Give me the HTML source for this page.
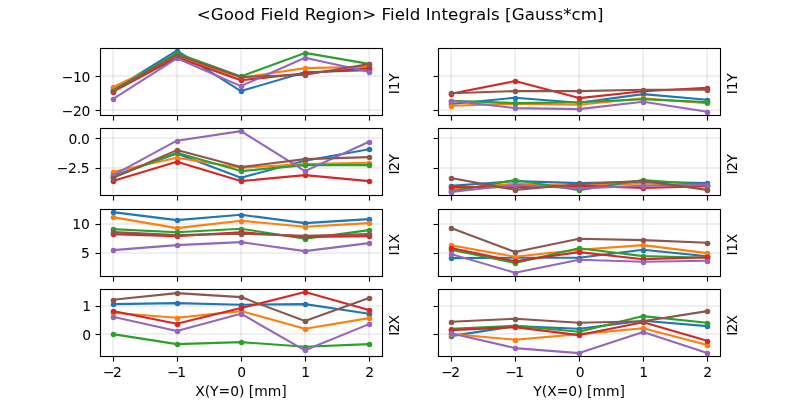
<!DOCTYPE html>
<html><head><meta charset="utf-8"><title>Field Integrals</title>
<style>html,body{margin:0;padding:0;background:#fff;overflow:hidden}svg{display:block}</style></head>
<body>
<svg width="800" height="400" viewBox="0 0 800 400" font-family="'DejaVu Sans', 'Liberation Sans', sans-serif">
<rect width="800" height="400" fill="#fff"/>
<text x="400.2" y="20.2" font-size="16.667" text-anchor="middle" textLength="406.8" lengthAdjust="spacing" fill="#000">&lt;Good Field Region&gt; Field Integrals [Gauss*cm]</text>
<clipPath id="c1"><rect x="100.000" y="48.000" width="281.818" height="66.957"/></clipPath>
<g clip-path="url(#c1)">
<line x1="113.0" y1="48.0" x2="113.0" y2="114.957" stroke="#b0b0b0" stroke-opacity="0.2" stroke-width="2.0"/>
<line x1="177.0" y1="48.0" x2="177.0" y2="114.957" stroke="#b0b0b0" stroke-opacity="0.2" stroke-width="2.0"/>
<line x1="241.0" y1="48.0" x2="241.0" y2="114.957" stroke="#b0b0b0" stroke-opacity="0.2" stroke-width="2.0"/>
<line x1="305.0" y1="48.0" x2="305.0" y2="114.957" stroke="#b0b0b0" stroke-opacity="0.2" stroke-width="2.0"/>
<line x1="369.0" y1="48.0" x2="369.0" y2="114.957" stroke="#b0b0b0" stroke-opacity="0.2" stroke-width="2.0"/>
<line x1="100.0" y1="76.0" x2="381.8182" y2="76.0" stroke="#b0b0b0" stroke-opacity="0.2" stroke-width="2.0"/>
<line x1="100.0" y1="110.0" x2="381.8182" y2="110.0" stroke="#b0b0b0" stroke-opacity="0.2" stroke-width="2.0"/>
<polyline fill="none" stroke="#1f77b4" stroke-width="2.083" stroke-linejoin="round" stroke-linecap="butt" points="112.81,90.20 176.86,50.70 240.91,91.10 304.96,72.20 369.01,70.20"/>
<circle cx="113.50" cy="90.50" r="2.77" fill="#1f77b4"/>
<circle cx="177.50" cy="51.50" r="2.77" fill="#1f77b4"/>
<circle cx="241.50" cy="91.50" r="2.77" fill="#1f77b4"/>
<circle cx="305.50" cy="72.50" r="2.77" fill="#1f77b4"/>
<circle cx="369.50" cy="70.50" r="2.77" fill="#1f77b4"/>
<polyline fill="none" stroke="#ff7f0e" stroke-width="2.083" stroke-linejoin="round" stroke-linecap="butt" points="112.81,87.30 176.86,56.70 240.91,77.70 304.96,68.10 369.01,66.70"/>
<circle cx="113.50" cy="87.50" r="2.77" fill="#ff7f0e"/>
<circle cx="177.50" cy="57.50" r="2.77" fill="#ff7f0e"/>
<circle cx="241.50" cy="78.50" r="2.77" fill="#ff7f0e"/>
<circle cx="305.50" cy="68.50" r="2.77" fill="#ff7f0e"/>
<circle cx="369.50" cy="67.50" r="2.77" fill="#ff7f0e"/>
<polyline fill="none" stroke="#2ca02c" stroke-width="2.083" stroke-linejoin="round" stroke-linecap="butt" points="112.81,90.70 176.86,53.20 240.91,76.50 304.96,52.90 369.01,63.90"/>
<circle cx="113.50" cy="91.50" r="2.77" fill="#2ca02c"/>
<circle cx="177.50" cy="53.50" r="2.77" fill="#2ca02c"/>
<circle cx="241.50" cy="76.50" r="2.77" fill="#2ca02c"/>
<circle cx="305.50" cy="53.50" r="2.77" fill="#2ca02c"/>
<circle cx="369.50" cy="64.50" r="2.77" fill="#2ca02c"/>
<polyline fill="none" stroke="#d62728" stroke-width="2.083" stroke-linejoin="round" stroke-linecap="butt" points="112.81,91.90 176.86,57.50 240.91,80.30 304.96,73.20 369.01,68.30"/>
<circle cx="113.50" cy="92.50" r="2.77" fill="#d62728"/>
<circle cx="177.50" cy="57.50" r="2.77" fill="#d62728"/>
<circle cx="241.50" cy="80.50" r="2.77" fill="#d62728"/>
<circle cx="305.50" cy="73.50" r="2.77" fill="#d62728"/>
<circle cx="369.50" cy="68.50" r="2.77" fill="#d62728"/>
<polyline fill="none" stroke="#9467bd" stroke-width="2.083" stroke-linejoin="round" stroke-linecap="butt" points="112.81,99.20 176.86,58.30 240.91,86.10 304.96,57.70 369.01,71.70"/>
<circle cx="113.50" cy="99.50" r="2.77" fill="#9467bd"/>
<circle cx="177.50" cy="58.50" r="2.77" fill="#9467bd"/>
<circle cx="241.50" cy="86.50" r="2.77" fill="#9467bd"/>
<circle cx="305.50" cy="58.50" r="2.77" fill="#9467bd"/>
<circle cx="369.50" cy="72.50" r="2.77" fill="#9467bd"/>
<polyline fill="none" stroke="#8c564b" stroke-width="2.083" stroke-linejoin="round" stroke-linecap="butt" points="112.81,91.30 176.86,54.90 240.91,77.10 304.96,74.70 369.01,64.10"/>
<circle cx="113.50" cy="91.50" r="2.77" fill="#8c564b"/>
<circle cx="177.50" cy="55.50" r="2.77" fill="#8c564b"/>
<circle cx="241.50" cy="77.50" r="2.77" fill="#8c564b"/>
<circle cx="305.50" cy="75.50" r="2.77" fill="#8c564b"/>
<circle cx="369.50" cy="64.50" r="2.77" fill="#8c564b"/>
</g>
<line x1="113.5" y1="115.5" x2="113.5" y2="120.60" stroke="#000" stroke-width="1.11"/>
<line x1="177.5" y1="115.5" x2="177.5" y2="120.60" stroke="#000" stroke-width="1.11"/>
<line x1="241.5" y1="115.5" x2="241.5" y2="120.60" stroke="#000" stroke-width="1.11"/>
<line x1="305.5" y1="115.5" x2="305.5" y2="120.60" stroke="#000" stroke-width="1.11"/>
<line x1="369.5" y1="115.5" x2="369.5" y2="120.60" stroke="#000" stroke-width="1.11"/>
<line x1="95.50" y1="76.5" x2="100.5" y2="76.5" stroke="#000" stroke-width="1.11"/>
<text x="89.88" y="81.50" font-size="13.889" text-anchor="end" letter-spacing="-0.4">−10</text>
<line x1="95.50" y1="110.5" x2="100.5" y2="110.5" stroke="#000" stroke-width="1.11"/>
<text x="89.88" y="115.50" font-size="13.889" text-anchor="end" letter-spacing="-0.4">−20</text>
<rect x="100.5" y="48.5" width="282.0" height="67.0" fill="none" stroke="#000" stroke-width="1.11"/>
<text transform="translate(399.48,83.78) rotate(-90)" font-size="13.889" text-anchor="middle" letter-spacing="-0.2">I1Y</text>
<clipPath id="c2"><rect x="438.182" y="48.000" width="281.818" height="66.957"/></clipPath>
<g clip-path="url(#c2)">
<line x1="451.0" y1="48.0" x2="451.0" y2="114.957" stroke="#b0b0b0" stroke-opacity="0.2" stroke-width="2.0"/>
<line x1="515.0" y1="48.0" x2="515.0" y2="114.957" stroke="#b0b0b0" stroke-opacity="0.2" stroke-width="2.0"/>
<line x1="579.0" y1="48.0" x2="579.0" y2="114.957" stroke="#b0b0b0" stroke-opacity="0.2" stroke-width="2.0"/>
<line x1="643.0" y1="48.0" x2="643.0" y2="114.957" stroke="#b0b0b0" stroke-opacity="0.2" stroke-width="2.0"/>
<line x1="707.0" y1="48.0" x2="707.0" y2="114.957" stroke="#b0b0b0" stroke-opacity="0.2" stroke-width="2.0"/>
<line x1="438.1818" y1="76.0" x2="720.0" y2="76.0" stroke="#b0b0b0" stroke-opacity="0.2" stroke-width="2.0"/>
<line x1="438.1818" y1="110.0" x2="720.0" y2="110.0" stroke="#b0b0b0" stroke-opacity="0.2" stroke-width="2.0"/>
<polyline fill="none" stroke="#1f77b4" stroke-width="2.083" stroke-linejoin="round" stroke-linecap="butt" points="450.99,104.00 515.04,97.70 579.09,102.70 643.14,94.10 707.19,99.70"/>
<circle cx="451.50" cy="104.50" r="2.77" fill="#1f77b4"/>
<circle cx="515.50" cy="98.50" r="2.77" fill="#1f77b4"/>
<circle cx="579.50" cy="103.50" r="2.77" fill="#1f77b4"/>
<circle cx="643.50" cy="94.50" r="2.77" fill="#1f77b4"/>
<circle cx="707.50" cy="100.50" r="2.77" fill="#1f77b4"/>
<polyline fill="none" stroke="#ff7f0e" stroke-width="2.083" stroke-linejoin="round" stroke-linecap="butt" points="450.99,105.70 515.04,103.70 579.09,104.70 643.14,98.30 707.19,103.30"/>
<circle cx="451.50" cy="106.50" r="2.77" fill="#ff7f0e"/>
<circle cx="515.50" cy="104.50" r="2.77" fill="#ff7f0e"/>
<circle cx="579.50" cy="105.50" r="2.77" fill="#ff7f0e"/>
<circle cx="643.50" cy="98.50" r="2.77" fill="#ff7f0e"/>
<circle cx="707.50" cy="103.50" r="2.77" fill="#ff7f0e"/>
<polyline fill="none" stroke="#2ca02c" stroke-width="2.083" stroke-linejoin="round" stroke-linecap="butt" points="450.99,100.70 515.04,103.10 579.09,102.30 643.14,99.30 707.19,102.10"/>
<circle cx="451.50" cy="101.50" r="2.77" fill="#2ca02c"/>
<circle cx="515.50" cy="103.50" r="2.77" fill="#2ca02c"/>
<circle cx="579.50" cy="102.50" r="2.77" fill="#2ca02c"/>
<circle cx="643.50" cy="99.50" r="2.77" fill="#2ca02c"/>
<circle cx="707.50" cy="102.50" r="2.77" fill="#2ca02c"/>
<polyline fill="none" stroke="#d62728" stroke-width="2.083" stroke-linejoin="round" stroke-linecap="butt" points="450.99,93.70 515.04,81.10 579.09,98.10 643.14,91.30 707.19,87.70"/>
<circle cx="451.50" cy="94.50" r="2.77" fill="#d62728"/>
<circle cx="515.50" cy="81.50" r="2.77" fill="#d62728"/>
<circle cx="579.50" cy="98.50" r="2.77" fill="#d62728"/>
<circle cx="643.50" cy="91.50" r="2.77" fill="#d62728"/>
<circle cx="707.50" cy="88.50" r="2.77" fill="#d62728"/>
<polyline fill="none" stroke="#9467bd" stroke-width="2.083" stroke-linejoin="round" stroke-linecap="butt" points="450.99,100.70 515.04,108.10 579.09,109.10 643.14,101.70 707.19,111.70"/>
<circle cx="451.50" cy="101.50" r="2.77" fill="#9467bd"/>
<circle cx="515.50" cy="108.50" r="2.77" fill="#9467bd"/>
<circle cx="579.50" cy="109.50" r="2.77" fill="#9467bd"/>
<circle cx="643.50" cy="102.50" r="2.77" fill="#9467bd"/>
<circle cx="707.50" cy="112.50" r="2.77" fill="#9467bd"/>
<polyline fill="none" stroke="#8c564b" stroke-width="2.083" stroke-linejoin="round" stroke-linecap="butt" points="450.99,93.30 515.04,91.10 579.09,91.10 643.14,89.70 707.19,89.70"/>
<circle cx="451.50" cy="93.50" r="2.77" fill="#8c564b"/>
<circle cx="515.50" cy="91.50" r="2.77" fill="#8c564b"/>
<circle cx="579.50" cy="91.50" r="2.77" fill="#8c564b"/>
<circle cx="643.50" cy="90.50" r="2.77" fill="#8c564b"/>
<circle cx="707.50" cy="90.50" r="2.77" fill="#8c564b"/>
</g>
<line x1="451.5" y1="115.5" x2="451.5" y2="120.60" stroke="#000" stroke-width="1.11"/>
<line x1="515.5" y1="115.5" x2="515.5" y2="120.60" stroke="#000" stroke-width="1.11"/>
<line x1="579.5" y1="115.5" x2="579.5" y2="120.60" stroke="#000" stroke-width="1.11"/>
<line x1="643.5" y1="115.5" x2="643.5" y2="120.60" stroke="#000" stroke-width="1.11"/>
<line x1="707.5" y1="115.5" x2="707.5" y2="120.60" stroke="#000" stroke-width="1.11"/>
<line x1="433.50" y1="76.5" x2="438.5" y2="76.5" stroke="#000" stroke-width="1.11"/>
<line x1="433.50" y1="110.5" x2="438.5" y2="110.5" stroke="#000" stroke-width="1.11"/>
<rect x="438.5" y="48.5" width="282.0" height="67.0" fill="none" stroke="#000" stroke-width="1.11"/>
<text transform="translate(736.56,83.78) rotate(-90)" font-size="13.889" text-anchor="middle" letter-spacing="-0.2">I1Y</text>
<clipPath id="c3"><rect x="100.000" y="128.348" width="281.818" height="66.956"/></clipPath>
<g clip-path="url(#c3)">
<line x1="113.0" y1="128.348" x2="113.0" y2="195.304" stroke="#b0b0b0" stroke-opacity="0.2" stroke-width="2.0"/>
<line x1="177.0" y1="128.348" x2="177.0" y2="195.304" stroke="#b0b0b0" stroke-opacity="0.2" stroke-width="2.0"/>
<line x1="241.0" y1="128.348" x2="241.0" y2="195.304" stroke="#b0b0b0" stroke-opacity="0.2" stroke-width="2.0"/>
<line x1="305.0" y1="128.348" x2="305.0" y2="195.304" stroke="#b0b0b0" stroke-opacity="0.2" stroke-width="2.0"/>
<line x1="369.0" y1="128.348" x2="369.0" y2="195.304" stroke="#b0b0b0" stroke-opacity="0.2" stroke-width="2.0"/>
<line x1="100.0" y1="138.0" x2="381.8182" y2="138.0" stroke="#b0b0b0" stroke-opacity="0.2" stroke-width="2.0"/>
<line x1="100.0" y1="168.0" x2="381.8182" y2="168.0" stroke="#b0b0b0" stroke-opacity="0.2" stroke-width="2.0"/>
<polyline fill="none" stroke="#1f77b4" stroke-width="2.083" stroke-linejoin="round" stroke-linecap="butt" points="112.81,176.20 176.86,153.50 240.91,177.70 304.96,160.70 369.01,149.30"/>
<circle cx="113.50" cy="176.50" r="2.77" fill="#1f77b4"/>
<circle cx="177.50" cy="153.50" r="2.77" fill="#1f77b4"/>
<circle cx="241.50" cy="178.50" r="2.77" fill="#1f77b4"/>
<circle cx="305.50" cy="161.50" r="2.77" fill="#1f77b4"/>
<circle cx="369.50" cy="149.50" r="2.77" fill="#1f77b4"/>
<polyline fill="none" stroke="#ff7f0e" stroke-width="2.083" stroke-linejoin="round" stroke-linecap="butt" points="112.81,172.10 176.86,157.70 240.91,167.70 304.96,164.10 369.01,162.70"/>
<circle cx="113.50" cy="172.50" r="2.77" fill="#ff7f0e"/>
<circle cx="177.50" cy="158.50" r="2.77" fill="#ff7f0e"/>
<circle cx="241.50" cy="168.50" r="2.77" fill="#ff7f0e"/>
<circle cx="305.50" cy="164.50" r="2.77" fill="#ff7f0e"/>
<circle cx="369.50" cy="163.50" r="2.77" fill="#ff7f0e"/>
<polyline fill="none" stroke="#2ca02c" stroke-width="2.083" stroke-linejoin="round" stroke-linecap="butt" points="112.81,177.20 176.86,152.70 240.91,171.10 304.96,165.10 369.01,165.10"/>
<circle cx="113.50" cy="177.50" r="2.77" fill="#2ca02c"/>
<circle cx="177.50" cy="153.50" r="2.77" fill="#2ca02c"/>
<circle cx="241.50" cy="171.50" r="2.77" fill="#2ca02c"/>
<circle cx="305.50" cy="165.50" r="2.77" fill="#2ca02c"/>
<circle cx="369.50" cy="165.50" r="2.77" fill="#2ca02c"/>
<polyline fill="none" stroke="#d62728" stroke-width="2.083" stroke-linejoin="round" stroke-linecap="butt" points="112.81,181.10 176.86,161.70 240.91,181.10 304.96,175.10 369.01,181.10"/>
<circle cx="113.50" cy="181.50" r="2.77" fill="#d62728"/>
<circle cx="177.50" cy="162.50" r="2.77" fill="#d62728"/>
<circle cx="241.50" cy="181.50" r="2.77" fill="#d62728"/>
<circle cx="305.50" cy="175.50" r="2.77" fill="#d62728"/>
<circle cx="369.50" cy="181.50" r="2.77" fill="#d62728"/>
<polyline fill="none" stroke="#9467bd" stroke-width="2.083" stroke-linejoin="round" stroke-linecap="butt" points="112.81,175.30 176.86,140.70 240.91,131.10 304.96,171.10 369.01,141.70"/>
<circle cx="113.50" cy="175.50" r="2.77" fill="#9467bd"/>
<circle cx="177.50" cy="141.50" r="2.77" fill="#9467bd"/>
<circle cx="241.50" cy="131.50" r="2.77" fill="#9467bd"/>
<circle cx="305.50" cy="171.50" r="2.77" fill="#9467bd"/>
<circle cx="369.50" cy="142.50" r="2.77" fill="#9467bd"/>
<polyline fill="none" stroke="#8c564b" stroke-width="2.083" stroke-linejoin="round" stroke-linecap="butt" points="112.81,178.10 176.86,150.10 240.91,167.10 304.96,159.10 369.01,157.10"/>
<circle cx="113.50" cy="178.50" r="2.77" fill="#8c564b"/>
<circle cx="177.50" cy="150.50" r="2.77" fill="#8c564b"/>
<circle cx="241.50" cy="167.50" r="2.77" fill="#8c564b"/>
<circle cx="305.50" cy="159.50" r="2.77" fill="#8c564b"/>
<circle cx="369.50" cy="157.50" r="2.77" fill="#8c564b"/>
</g>
<line x1="113.5" y1="195.5" x2="113.5" y2="200.60" stroke="#000" stroke-width="1.11"/>
<line x1="177.5" y1="195.5" x2="177.5" y2="200.60" stroke="#000" stroke-width="1.11"/>
<line x1="241.5" y1="195.5" x2="241.5" y2="200.60" stroke="#000" stroke-width="1.11"/>
<line x1="305.5" y1="195.5" x2="305.5" y2="200.60" stroke="#000" stroke-width="1.11"/>
<line x1="369.5" y1="195.5" x2="369.5" y2="200.60" stroke="#000" stroke-width="1.11"/>
<line x1="95.50" y1="138.5" x2="100.5" y2="138.5" stroke="#000" stroke-width="1.11"/>
<text x="89.43" y="143.50" font-size="13.889" text-anchor="end" letter-spacing="-0.4">0.0</text>
<line x1="95.50" y1="168.5" x2="100.5" y2="168.5" stroke="#000" stroke-width="1.11"/>
<text x="89.43" y="172.50" font-size="13.889" text-anchor="end" letter-spacing="-0.25">−2.5</text>
<rect x="100.5" y="128.5" width="282.0" height="67.0" fill="none" stroke="#000" stroke-width="1.11"/>
<text transform="translate(399.48,164.58) rotate(-90)" font-size="13.889" text-anchor="middle" letter-spacing="-0.5">I2Y</text>
<clipPath id="c4"><rect x="438.182" y="128.348" width="281.818" height="66.956"/></clipPath>
<g clip-path="url(#c4)">
<line x1="451.0" y1="128.348" x2="451.0" y2="195.304" stroke="#b0b0b0" stroke-opacity="0.2" stroke-width="2.0"/>
<line x1="515.0" y1="128.348" x2="515.0" y2="195.304" stroke="#b0b0b0" stroke-opacity="0.2" stroke-width="2.0"/>
<line x1="579.0" y1="128.348" x2="579.0" y2="195.304" stroke="#b0b0b0" stroke-opacity="0.2" stroke-width="2.0"/>
<line x1="643.0" y1="128.348" x2="643.0" y2="195.304" stroke="#b0b0b0" stroke-opacity="0.2" stroke-width="2.0"/>
<line x1="707.0" y1="128.348" x2="707.0" y2="195.304" stroke="#b0b0b0" stroke-opacity="0.2" stroke-width="2.0"/>
<line x1="438.1818" y1="138.0" x2="720.0" y2="138.0" stroke="#b0b0b0" stroke-opacity="0.2" stroke-width="2.0"/>
<line x1="438.1818" y1="168.0" x2="720.0" y2="168.0" stroke="#b0b0b0" stroke-opacity="0.2" stroke-width="2.0"/>
<polyline fill="none" stroke="#1f77b4" stroke-width="2.083" stroke-linejoin="round" stroke-linecap="butt" points="450.99,185.90 515.04,181.10 579.09,183.10 643.14,181.70 707.19,183.00"/>
<circle cx="451.50" cy="186.50" r="2.77" fill="#1f77b4"/>
<circle cx="515.50" cy="181.50" r="2.77" fill="#1f77b4"/>
<circle cx="579.50" cy="183.50" r="2.77" fill="#1f77b4"/>
<circle cx="643.50" cy="182.50" r="2.77" fill="#1f77b4"/>
<circle cx="707.50" cy="183.50" r="2.77" fill="#1f77b4"/>
<polyline fill="none" stroke="#ff7f0e" stroke-width="2.083" stroke-linejoin="round" stroke-linecap="butt" points="450.99,189.30 515.04,183.70 579.09,185.70 643.14,183.55 707.19,185.70"/>
<circle cx="451.50" cy="189.50" r="2.77" fill="#ff7f0e"/>
<circle cx="515.50" cy="184.50" r="2.77" fill="#ff7f0e"/>
<circle cx="579.50" cy="186.50" r="2.77" fill="#ff7f0e"/>
<circle cx="643.50" cy="183.50" r="2.77" fill="#ff7f0e"/>
<circle cx="707.50" cy="186.50" r="2.77" fill="#ff7f0e"/>
<polyline fill="none" stroke="#2ca02c" stroke-width="2.083" stroke-linejoin="round" stroke-linecap="butt" points="450.99,191.50 515.04,179.95 579.09,190.30 643.14,179.95 707.19,184.70"/>
<circle cx="451.50" cy="191.50" r="2.77" fill="#2ca02c"/>
<circle cx="515.50" cy="180.50" r="2.77" fill="#2ca02c"/>
<circle cx="579.50" cy="190.50" r="2.77" fill="#2ca02c"/>
<circle cx="643.50" cy="180.50" r="2.77" fill="#2ca02c"/>
<circle cx="707.50" cy="185.50" r="2.77" fill="#2ca02c"/>
<polyline fill="none" stroke="#d62728" stroke-width="2.083" stroke-linejoin="round" stroke-linecap="butt" points="450.99,187.10 515.04,187.20 579.09,185.80 643.14,188.05 707.19,186.10"/>
<circle cx="451.50" cy="187.50" r="2.77" fill="#d62728"/>
<circle cx="515.50" cy="187.50" r="2.77" fill="#d62728"/>
<circle cx="579.50" cy="186.50" r="2.77" fill="#d62728"/>
<circle cx="643.50" cy="188.50" r="2.77" fill="#d62728"/>
<circle cx="707.50" cy="186.50" r="2.77" fill="#d62728"/>
<polyline fill="none" stroke="#9467bd" stroke-width="2.083" stroke-linejoin="round" stroke-linecap="butt" points="450.99,192.00 515.04,185.00 579.09,188.40 643.14,185.80 707.19,185.00"/>
<circle cx="451.50" cy="192.50" r="2.77" fill="#9467bd"/>
<circle cx="515.50" cy="185.50" r="2.77" fill="#9467bd"/>
<circle cx="579.50" cy="188.50" r="2.77" fill="#9467bd"/>
<circle cx="643.50" cy="186.50" r="2.77" fill="#9467bd"/>
<circle cx="707.50" cy="185.50" r="2.77" fill="#9467bd"/>
<polyline fill="none" stroke="#8c564b" stroke-width="2.083" stroke-linejoin="round" stroke-linecap="butt" points="450.99,178.00 515.04,189.85 579.09,184.20 643.14,180.85 707.19,189.85"/>
<circle cx="451.50" cy="178.50" r="2.77" fill="#8c564b"/>
<circle cx="515.50" cy="190.50" r="2.77" fill="#8c564b"/>
<circle cx="579.50" cy="184.50" r="2.77" fill="#8c564b"/>
<circle cx="643.50" cy="181.50" r="2.77" fill="#8c564b"/>
<circle cx="707.50" cy="190.50" r="2.77" fill="#8c564b"/>
</g>
<line x1="451.5" y1="195.5" x2="451.5" y2="200.60" stroke="#000" stroke-width="1.11"/>
<line x1="515.5" y1="195.5" x2="515.5" y2="200.60" stroke="#000" stroke-width="1.11"/>
<line x1="579.5" y1="195.5" x2="579.5" y2="200.60" stroke="#000" stroke-width="1.11"/>
<line x1="643.5" y1="195.5" x2="643.5" y2="200.60" stroke="#000" stroke-width="1.11"/>
<line x1="707.5" y1="195.5" x2="707.5" y2="200.60" stroke="#000" stroke-width="1.11"/>
<line x1="433.50" y1="138.5" x2="438.5" y2="138.5" stroke="#000" stroke-width="1.11"/>
<line x1="433.50" y1="168.5" x2="438.5" y2="168.5" stroke="#000" stroke-width="1.11"/>
<rect x="438.5" y="128.5" width="282.0" height="67.0" fill="none" stroke="#000" stroke-width="1.11"/>
<text transform="translate(736.56,164.58) rotate(-90)" font-size="13.889" text-anchor="middle" letter-spacing="-0.5">I2Y</text>
<clipPath id="c5"><rect x="100.000" y="208.696" width="281.818" height="66.956"/></clipPath>
<g clip-path="url(#c5)">
<line x1="113.0" y1="208.696" x2="113.0" y2="275.652" stroke="#b0b0b0" stroke-opacity="0.2" stroke-width="2.0"/>
<line x1="177.0" y1="208.696" x2="177.0" y2="275.652" stroke="#b0b0b0" stroke-opacity="0.2" stroke-width="2.0"/>
<line x1="241.0" y1="208.696" x2="241.0" y2="275.652" stroke="#b0b0b0" stroke-opacity="0.2" stroke-width="2.0"/>
<line x1="305.0" y1="208.696" x2="305.0" y2="275.652" stroke="#b0b0b0" stroke-opacity="0.2" stroke-width="2.0"/>
<line x1="369.0" y1="208.696" x2="369.0" y2="275.652" stroke="#b0b0b0" stroke-opacity="0.2" stroke-width="2.0"/>
<line x1="100.0" y1="224.0" x2="381.8182" y2="224.0" stroke="#b0b0b0" stroke-opacity="0.2" stroke-width="2.0"/>
<line x1="100.0" y1="253.0" x2="381.8182" y2="253.0" stroke="#b0b0b0" stroke-opacity="0.2" stroke-width="2.0"/>
<polyline fill="none" stroke="#1f77b4" stroke-width="2.083" stroke-linejoin="round" stroke-linecap="butt" points="112.81,212.10 176.86,220.10 240.91,214.70 304.96,223.10 369.01,219.10"/>
<circle cx="113.50" cy="212.50" r="2.77" fill="#1f77b4"/>
<circle cx="177.50" cy="220.50" r="2.77" fill="#1f77b4"/>
<circle cx="241.50" cy="215.50" r="2.77" fill="#1f77b4"/>
<circle cx="305.50" cy="223.50" r="2.77" fill="#1f77b4"/>
<circle cx="369.50" cy="219.50" r="2.77" fill="#1f77b4"/>
<polyline fill="none" stroke="#ff7f0e" stroke-width="2.083" stroke-linejoin="round" stroke-linecap="butt" points="112.81,217.10 176.86,228.10 240.91,220.70 304.96,226.70 369.01,223.10"/>
<circle cx="113.50" cy="217.50" r="2.77" fill="#ff7f0e"/>
<circle cx="177.50" cy="228.50" r="2.77" fill="#ff7f0e"/>
<circle cx="241.50" cy="221.50" r="2.77" fill="#ff7f0e"/>
<circle cx="305.50" cy="227.50" r="2.77" fill="#ff7f0e"/>
<circle cx="369.50" cy="223.50" r="2.77" fill="#ff7f0e"/>
<polyline fill="none" stroke="#2ca02c" stroke-width="2.083" stroke-linejoin="round" stroke-linecap="butt" points="112.81,229.10 176.86,232.30 240.91,228.70 304.96,238.70 369.01,230.10"/>
<circle cx="113.50" cy="229.50" r="2.77" fill="#2ca02c"/>
<circle cx="177.50" cy="232.50" r="2.77" fill="#2ca02c"/>
<circle cx="241.50" cy="229.50" r="2.77" fill="#2ca02c"/>
<circle cx="305.50" cy="239.50" r="2.77" fill="#2ca02c"/>
<circle cx="369.50" cy="230.50" r="2.77" fill="#2ca02c"/>
<polyline fill="none" stroke="#d62728" stroke-width="2.083" stroke-linejoin="round" stroke-linecap="butt" points="112.81,234.10 176.86,236.10 240.91,232.30 304.96,236.90 369.01,236.10"/>
<circle cx="113.50" cy="234.50" r="2.77" fill="#d62728"/>
<circle cx="177.50" cy="236.50" r="2.77" fill="#d62728"/>
<circle cx="241.50" cy="232.50" r="2.77" fill="#d62728"/>
<circle cx="305.50" cy="237.50" r="2.77" fill="#d62728"/>
<circle cx="369.50" cy="236.50" r="2.77" fill="#d62728"/>
<polyline fill="none" stroke="#9467bd" stroke-width="2.083" stroke-linejoin="round" stroke-linecap="butt" points="112.81,250.10 176.86,245.10 240.91,242.10 304.96,251.10 369.01,243.10"/>
<circle cx="113.50" cy="250.50" r="2.77" fill="#9467bd"/>
<circle cx="177.50" cy="245.50" r="2.77" fill="#9467bd"/>
<circle cx="241.50" cy="242.50" r="2.77" fill="#9467bd"/>
<circle cx="305.50" cy="251.50" r="2.77" fill="#9467bd"/>
<circle cx="369.50" cy="243.50" r="2.77" fill="#9467bd"/>
<polyline fill="none" stroke="#8c564b" stroke-width="2.083" stroke-linejoin="round" stroke-linecap="butt" points="112.81,232.10 176.86,235.10 240.91,233.70 304.96,235.70 369.01,234.10"/>
<circle cx="113.50" cy="232.50" r="2.77" fill="#8c564b"/>
<circle cx="177.50" cy="235.50" r="2.77" fill="#8c564b"/>
<circle cx="241.50" cy="234.50" r="2.77" fill="#8c564b"/>
<circle cx="305.50" cy="236.50" r="2.77" fill="#8c564b"/>
<circle cx="369.50" cy="234.50" r="2.77" fill="#8c564b"/>
</g>
<line x1="113.5" y1="276.5" x2="113.5" y2="281.60" stroke="#000" stroke-width="1.11"/>
<line x1="177.5" y1="276.5" x2="177.5" y2="281.60" stroke="#000" stroke-width="1.11"/>
<line x1="241.5" y1="276.5" x2="241.5" y2="281.60" stroke="#000" stroke-width="1.11"/>
<line x1="305.5" y1="276.5" x2="305.5" y2="281.60" stroke="#000" stroke-width="1.11"/>
<line x1="369.5" y1="276.5" x2="369.5" y2="281.60" stroke="#000" stroke-width="1.11"/>
<line x1="95.50" y1="224.5" x2="100.5" y2="224.5" stroke="#000" stroke-width="1.11"/>
<text x="89.88" y="228.50" font-size="13.889" text-anchor="end">10</text>
<line x1="95.50" y1="253.5" x2="100.5" y2="253.5" stroke="#000" stroke-width="1.11"/>
<text x="89.88" y="257.50" font-size="13.889" text-anchor="end">5</text>
<rect x="100.5" y="209.5" width="282.0" height="67.0" fill="none" stroke="#000" stroke-width="1.11"/>
<text transform="translate(399.48,244.77) rotate(-90)" font-size="13.889" text-anchor="middle" letter-spacing="-0.4">I1X</text>
<clipPath id="c6"><rect x="438.182" y="208.696" width="281.818" height="66.956"/></clipPath>
<g clip-path="url(#c6)">
<line x1="451.0" y1="208.696" x2="451.0" y2="275.652" stroke="#b0b0b0" stroke-opacity="0.2" stroke-width="2.0"/>
<line x1="515.0" y1="208.696" x2="515.0" y2="275.652" stroke="#b0b0b0" stroke-opacity="0.2" stroke-width="2.0"/>
<line x1="579.0" y1="208.696" x2="579.0" y2="275.652" stroke="#b0b0b0" stroke-opacity="0.2" stroke-width="2.0"/>
<line x1="643.0" y1="208.696" x2="643.0" y2="275.652" stroke="#b0b0b0" stroke-opacity="0.2" stroke-width="2.0"/>
<line x1="707.0" y1="208.696" x2="707.0" y2="275.652" stroke="#b0b0b0" stroke-opacity="0.2" stroke-width="2.0"/>
<line x1="438.1818" y1="224.0" x2="720.0" y2="224.0" stroke="#b0b0b0" stroke-opacity="0.2" stroke-width="2.0"/>
<line x1="438.1818" y1="253.0" x2="720.0" y2="253.0" stroke="#b0b0b0" stroke-opacity="0.2" stroke-width="2.0"/>
<polyline fill="none" stroke="#1f77b4" stroke-width="2.083" stroke-linejoin="round" stroke-linecap="butt" points="450.99,258.10 515.04,257.70 579.09,257.70 643.14,249.70 707.19,256.30"/>
<circle cx="451.50" cy="258.50" r="2.77" fill="#1f77b4"/>
<circle cx="515.50" cy="258.50" r="2.77" fill="#1f77b4"/>
<circle cx="579.50" cy="258.50" r="2.77" fill="#1f77b4"/>
<circle cx="643.50" cy="250.50" r="2.77" fill="#1f77b4"/>
<circle cx="707.50" cy="256.50" r="2.77" fill="#1f77b4"/>
<polyline fill="none" stroke="#ff7f0e" stroke-width="2.083" stroke-linejoin="round" stroke-linecap="butt" points="450.99,245.30 515.04,256.70 579.09,249.70 643.14,245.10 707.19,253.10"/>
<circle cx="451.50" cy="245.50" r="2.77" fill="#ff7f0e"/>
<circle cx="515.50" cy="257.50" r="2.77" fill="#ff7f0e"/>
<circle cx="579.50" cy="250.50" r="2.77" fill="#ff7f0e"/>
<circle cx="643.50" cy="245.50" r="2.77" fill="#ff7f0e"/>
<circle cx="707.50" cy="253.50" r="2.77" fill="#ff7f0e"/>
<polyline fill="none" stroke="#2ca02c" stroke-width="2.083" stroke-linejoin="round" stroke-linecap="butt" points="450.99,249.70 515.04,262.90 579.09,248.30 643.14,256.10 707.19,257.70"/>
<circle cx="451.50" cy="250.50" r="2.77" fill="#2ca02c"/>
<circle cx="515.50" cy="263.50" r="2.77" fill="#2ca02c"/>
<circle cx="579.50" cy="248.50" r="2.77" fill="#2ca02c"/>
<circle cx="643.50" cy="256.50" r="2.77" fill="#2ca02c"/>
<circle cx="707.50" cy="258.50" r="2.77" fill="#2ca02c"/>
<polyline fill="none" stroke="#d62728" stroke-width="2.083" stroke-linejoin="round" stroke-linecap="butt" points="450.99,248.10 515.04,261.30 579.09,252.10 643.14,259.30 707.19,257.30"/>
<circle cx="451.50" cy="248.50" r="2.77" fill="#d62728"/>
<circle cx="515.50" cy="261.50" r="2.77" fill="#d62728"/>
<circle cx="579.50" cy="252.50" r="2.77" fill="#d62728"/>
<circle cx="643.50" cy="259.50" r="2.77" fill="#d62728"/>
<circle cx="707.50" cy="257.50" r="2.77" fill="#d62728"/>
<polyline fill="none" stroke="#9467bd" stroke-width="2.083" stroke-linejoin="round" stroke-linecap="butt" points="450.99,254.10 515.04,272.70 579.09,259.70 643.14,261.70 707.19,260.70"/>
<circle cx="451.50" cy="254.50" r="2.77" fill="#9467bd"/>
<circle cx="515.50" cy="273.50" r="2.77" fill="#9467bd"/>
<circle cx="579.50" cy="260.50" r="2.77" fill="#9467bd"/>
<circle cx="643.50" cy="262.50" r="2.77" fill="#9467bd"/>
<circle cx="707.50" cy="261.50" r="2.77" fill="#9467bd"/>
<polyline fill="none" stroke="#8c564b" stroke-width="2.083" stroke-linejoin="round" stroke-linecap="butt" points="450.99,228.10 515.04,252.10 579.09,238.70 643.14,240.10 707.19,242.70"/>
<circle cx="451.50" cy="228.50" r="2.77" fill="#8c564b"/>
<circle cx="515.50" cy="252.50" r="2.77" fill="#8c564b"/>
<circle cx="579.50" cy="239.50" r="2.77" fill="#8c564b"/>
<circle cx="643.50" cy="240.50" r="2.77" fill="#8c564b"/>
<circle cx="707.50" cy="243.50" r="2.77" fill="#8c564b"/>
</g>
<line x1="451.5" y1="276.5" x2="451.5" y2="281.60" stroke="#000" stroke-width="1.11"/>
<line x1="515.5" y1="276.5" x2="515.5" y2="281.60" stroke="#000" stroke-width="1.11"/>
<line x1="579.5" y1="276.5" x2="579.5" y2="281.60" stroke="#000" stroke-width="1.11"/>
<line x1="643.5" y1="276.5" x2="643.5" y2="281.60" stroke="#000" stroke-width="1.11"/>
<line x1="707.5" y1="276.5" x2="707.5" y2="281.60" stroke="#000" stroke-width="1.11"/>
<line x1="433.50" y1="224.5" x2="438.5" y2="224.5" stroke="#000" stroke-width="1.11"/>
<line x1="433.50" y1="253.5" x2="438.5" y2="253.5" stroke="#000" stroke-width="1.11"/>
<rect x="438.5" y="209.5" width="282.0" height="67.0" fill="none" stroke="#000" stroke-width="1.11"/>
<text transform="translate(736.56,244.77) rotate(-90)" font-size="13.889" text-anchor="middle" letter-spacing="-0.4">I1X</text>
<clipPath id="c7"><rect x="100.000" y="289.043" width="281.818" height="66.957"/></clipPath>
<g clip-path="url(#c7)">
<line x1="113.0" y1="289.043" x2="113.0" y2="356.0" stroke="#b0b0b0" stroke-opacity="0.2" stroke-width="2.0"/>
<line x1="177.0" y1="289.043" x2="177.0" y2="356.0" stroke="#b0b0b0" stroke-opacity="0.2" stroke-width="2.0"/>
<line x1="241.0" y1="289.043" x2="241.0" y2="356.0" stroke="#b0b0b0" stroke-opacity="0.2" stroke-width="2.0"/>
<line x1="305.0" y1="289.043" x2="305.0" y2="356.0" stroke="#b0b0b0" stroke-opacity="0.2" stroke-width="2.0"/>
<line x1="369.0" y1="289.043" x2="369.0" y2="356.0" stroke="#b0b0b0" stroke-opacity="0.2" stroke-width="2.0"/>
<line x1="100.0" y1="306.0" x2="381.8182" y2="306.0" stroke="#b0b0b0" stroke-opacity="0.2" stroke-width="2.0"/>
<line x1="100.0" y1="334.0" x2="381.8182" y2="334.0" stroke="#b0b0b0" stroke-opacity="0.2" stroke-width="2.0"/>
<polyline fill="none" stroke="#1f77b4" stroke-width="2.083" stroke-linejoin="round" stroke-linecap="butt" points="112.81,304.10 176.86,303.10 240.91,304.70 304.96,304.10 369.01,313.70"/>
<circle cx="113.50" cy="304.50" r="2.77" fill="#1f77b4"/>
<circle cx="177.50" cy="303.50" r="2.77" fill="#1f77b4"/>
<circle cx="241.50" cy="305.50" r="2.77" fill="#1f77b4"/>
<circle cx="305.50" cy="304.50" r="2.77" fill="#1f77b4"/>
<circle cx="369.50" cy="314.50" r="2.77" fill="#1f77b4"/>
<polyline fill="none" stroke="#ff7f0e" stroke-width="2.083" stroke-linejoin="round" stroke-linecap="butt" points="112.81,312.70 176.86,317.70 240.91,311.10 304.96,328.70 369.01,318.10"/>
<circle cx="113.50" cy="313.50" r="2.77" fill="#ff7f0e"/>
<circle cx="177.50" cy="318.50" r="2.77" fill="#ff7f0e"/>
<circle cx="241.50" cy="311.50" r="2.77" fill="#ff7f0e"/>
<circle cx="305.50" cy="329.50" r="2.77" fill="#ff7f0e"/>
<circle cx="369.50" cy="318.50" r="2.77" fill="#ff7f0e"/>
<polyline fill="none" stroke="#2ca02c" stroke-width="2.083" stroke-linejoin="round" stroke-linecap="butt" points="112.81,334.10 176.86,344.10 240.91,342.10 304.96,346.70 369.01,344.10"/>
<circle cx="113.50" cy="334.50" r="2.77" fill="#2ca02c"/>
<circle cx="177.50" cy="344.50" r="2.77" fill="#2ca02c"/>
<circle cx="241.50" cy="342.50" r="2.77" fill="#2ca02c"/>
<circle cx="305.50" cy="347.50" r="2.77" fill="#2ca02c"/>
<circle cx="369.50" cy="344.50" r="2.77" fill="#2ca02c"/>
<polyline fill="none" stroke="#d62728" stroke-width="2.083" stroke-linejoin="round" stroke-linecap="butt" points="112.81,311.10 176.86,323.70 240.91,308.10 304.96,292.10 369.01,310.10"/>
<circle cx="113.50" cy="311.50" r="2.77" fill="#d62728"/>
<circle cx="177.50" cy="324.50" r="2.77" fill="#d62728"/>
<circle cx="241.50" cy="308.50" r="2.77" fill="#d62728"/>
<circle cx="305.50" cy="292.50" r="2.77" fill="#d62728"/>
<circle cx="369.50" cy="310.50" r="2.77" fill="#d62728"/>
<polyline fill="none" stroke="#9467bd" stroke-width="2.083" stroke-linejoin="round" stroke-linecap="butt" points="112.81,316.70 176.86,331.10 240.91,313.70 304.96,350.30 369.01,324.10"/>
<circle cx="113.50" cy="317.50" r="2.77" fill="#9467bd"/>
<circle cx="177.50" cy="331.50" r="2.77" fill="#9467bd"/>
<circle cx="241.50" cy="314.50" r="2.77" fill="#9467bd"/>
<circle cx="305.50" cy="350.50" r="2.77" fill="#9467bd"/>
<circle cx="369.50" cy="324.50" r="2.77" fill="#9467bd"/>
<polyline fill="none" stroke="#8c564b" stroke-width="2.083" stroke-linejoin="round" stroke-linecap="butt" points="112.81,299.70 176.86,293.10 240.91,297.10 304.96,321.10 369.01,298.10"/>
<circle cx="113.50" cy="300.50" r="2.77" fill="#8c564b"/>
<circle cx="177.50" cy="293.50" r="2.77" fill="#8c564b"/>
<circle cx="241.50" cy="297.50" r="2.77" fill="#8c564b"/>
<circle cx="305.50" cy="321.50" r="2.77" fill="#8c564b"/>
<circle cx="369.50" cy="298.50" r="2.77" fill="#8c564b"/>
</g>
<line x1="113.5" y1="356.5" x2="113.5" y2="361.60" stroke="#000" stroke-width="1.11"/>
<text x="112.51" y="377.22" font-size="13.889" text-anchor="middle">−<tspan dx="-1.6">2</tspan></text>
<line x1="177.5" y1="356.5" x2="177.5" y2="361.60" stroke="#000" stroke-width="1.11"/>
<text x="176.56" y="377.22" font-size="13.889" text-anchor="middle">−<tspan dx="-1.6">1</tspan></text>
<line x1="241.5" y1="356.5" x2="241.5" y2="361.60" stroke="#000" stroke-width="1.11"/>
<text x="241.56" y="377.22" font-size="13.889" text-anchor="middle">0</text>
<line x1="305.5" y1="356.5" x2="305.5" y2="361.60" stroke="#000" stroke-width="1.11"/>
<text x="305.61" y="377.22" font-size="13.889" text-anchor="middle">1</text>
<line x1="369.5" y1="356.5" x2="369.5" y2="361.60" stroke="#000" stroke-width="1.11"/>
<text x="369.66" y="377.22" font-size="13.889" text-anchor="middle">2</text>
<line x1="95.50" y1="306.5" x2="100.5" y2="306.5" stroke="#000" stroke-width="1.11"/>
<text x="90.98" y="310.50" font-size="13.889" text-anchor="end">1</text>
<line x1="95.50" y1="334.5" x2="100.5" y2="334.5" stroke="#000" stroke-width="1.11"/>
<text x="90.98" y="339.50" font-size="13.889" text-anchor="end">0</text>
<rect x="100.5" y="289.5" width="282.0" height="67.0" fill="none" stroke="#000" stroke-width="1.11"/>
<text transform="translate(399.48,325.87) rotate(-90)" font-size="13.889" text-anchor="middle" letter-spacing="-0.9">I2X</text>
<text x="240.91" y="396.42" font-size="13.889" text-anchor="middle">X(Y=0) [mm]</text>
<clipPath id="c8"><rect x="438.182" y="289.043" width="281.818" height="66.957"/></clipPath>
<g clip-path="url(#c8)">
<line x1="451.0" y1="289.043" x2="451.0" y2="356.0" stroke="#b0b0b0" stroke-opacity="0.2" stroke-width="2.0"/>
<line x1="515.0" y1="289.043" x2="515.0" y2="356.0" stroke="#b0b0b0" stroke-opacity="0.2" stroke-width="2.0"/>
<line x1="579.0" y1="289.043" x2="579.0" y2="356.0" stroke="#b0b0b0" stroke-opacity="0.2" stroke-width="2.0"/>
<line x1="643.0" y1="289.043" x2="643.0" y2="356.0" stroke="#b0b0b0" stroke-opacity="0.2" stroke-width="2.0"/>
<line x1="707.0" y1="289.043" x2="707.0" y2="356.0" stroke="#b0b0b0" stroke-opacity="0.2" stroke-width="2.0"/>
<line x1="438.1818" y1="306.0" x2="720.0" y2="306.0" stroke="#b0b0b0" stroke-opacity="0.2" stroke-width="2.0"/>
<line x1="438.1818" y1="334.0" x2="720.0" y2="334.0" stroke="#b0b0b0" stroke-opacity="0.2" stroke-width="2.0"/>
<polyline fill="none" stroke="#1f77b4" stroke-width="2.083" stroke-linejoin="round" stroke-linecap="butt" points="450.99,336.10 515.04,326.10 579.09,328.70 643.14,320.70 707.19,326.10"/>
<circle cx="451.50" cy="336.50" r="2.77" fill="#1f77b4"/>
<circle cx="515.50" cy="326.50" r="2.77" fill="#1f77b4"/>
<circle cx="579.50" cy="329.50" r="2.77" fill="#1f77b4"/>
<circle cx="643.50" cy="321.50" r="2.77" fill="#1f77b4"/>
<circle cx="707.50" cy="326.50" r="2.77" fill="#1f77b4"/>
<polyline fill="none" stroke="#ff7f0e" stroke-width="2.083" stroke-linejoin="round" stroke-linecap="butt" points="450.99,334.00 515.04,339.70 579.09,334.10 643.14,328.30 707.19,345.10"/>
<circle cx="451.50" cy="334.50" r="2.77" fill="#ff7f0e"/>
<circle cx="515.50" cy="340.50" r="2.77" fill="#ff7f0e"/>
<circle cx="579.50" cy="334.50" r="2.77" fill="#ff7f0e"/>
<circle cx="643.50" cy="328.50" r="2.77" fill="#ff7f0e"/>
<circle cx="707.50" cy="345.50" r="2.77" fill="#ff7f0e"/>
<polyline fill="none" stroke="#2ca02c" stroke-width="2.083" stroke-linejoin="round" stroke-linecap="butt" points="450.99,328.70 515.04,325.70 579.09,331.70 643.14,316.10 707.19,322.70"/>
<circle cx="451.50" cy="329.50" r="2.77" fill="#2ca02c"/>
<circle cx="515.50" cy="326.50" r="2.77" fill="#2ca02c"/>
<circle cx="579.50" cy="332.50" r="2.77" fill="#2ca02c"/>
<circle cx="643.50" cy="316.50" r="2.77" fill="#2ca02c"/>
<circle cx="707.50" cy="323.50" r="2.77" fill="#2ca02c"/>
<polyline fill="none" stroke="#d62728" stroke-width="2.083" stroke-linejoin="round" stroke-linecap="butt" points="450.99,330.10 515.04,327.10 579.09,335.10 643.14,322.30 707.19,340.70"/>
<circle cx="451.50" cy="330.50" r="2.77" fill="#d62728"/>
<circle cx="515.50" cy="327.50" r="2.77" fill="#d62728"/>
<circle cx="579.50" cy="335.50" r="2.77" fill="#d62728"/>
<circle cx="643.50" cy="322.50" r="2.77" fill="#d62728"/>
<circle cx="707.50" cy="341.50" r="2.77" fill="#d62728"/>
<polyline fill="none" stroke="#9467bd" stroke-width="2.083" stroke-linejoin="round" stroke-linecap="butt" points="450.99,333.30 515.04,348.10 579.09,353.10 643.14,332.10 707.19,353.10"/>
<circle cx="451.50" cy="333.50" r="2.77" fill="#9467bd"/>
<circle cx="515.50" cy="348.50" r="2.77" fill="#9467bd"/>
<circle cx="579.50" cy="353.50" r="2.77" fill="#9467bd"/>
<circle cx="643.50" cy="332.50" r="2.77" fill="#9467bd"/>
<circle cx="707.50" cy="353.50" r="2.77" fill="#9467bd"/>
<polyline fill="none" stroke="#8c564b" stroke-width="2.083" stroke-linejoin="round" stroke-linecap="butt" points="450.99,321.70 515.04,318.70 579.09,322.70 643.14,321.30 707.19,311.10"/>
<circle cx="451.50" cy="322.50" r="2.77" fill="#8c564b"/>
<circle cx="515.50" cy="319.50" r="2.77" fill="#8c564b"/>
<circle cx="579.50" cy="323.50" r="2.77" fill="#8c564b"/>
<circle cx="643.50" cy="321.50" r="2.77" fill="#8c564b"/>
<circle cx="707.50" cy="311.50" r="2.77" fill="#8c564b"/>
</g>
<line x1="451.5" y1="356.5" x2="451.5" y2="361.60" stroke="#000" stroke-width="1.11"/>
<text x="450.69" y="377.22" font-size="13.889" text-anchor="middle">−<tspan dx="-1.6">2</tspan></text>
<line x1="515.5" y1="356.5" x2="515.5" y2="361.60" stroke="#000" stroke-width="1.11"/>
<text x="514.74" y="377.22" font-size="13.889" text-anchor="middle">−<tspan dx="-1.6">1</tspan></text>
<line x1="579.5" y1="356.5" x2="579.5" y2="361.60" stroke="#000" stroke-width="1.11"/>
<text x="580.19" y="377.22" font-size="13.889" text-anchor="middle">0</text>
<line x1="643.5" y1="356.5" x2="643.5" y2="361.60" stroke="#000" stroke-width="1.11"/>
<text x="643.64" y="377.22" font-size="13.889" text-anchor="middle">1</text>
<line x1="707.5" y1="356.5" x2="707.5" y2="361.60" stroke="#000" stroke-width="1.11"/>
<text x="707.69" y="377.22" font-size="13.889" text-anchor="middle">2</text>
<line x1="433.50" y1="306.5" x2="438.5" y2="306.5" stroke="#000" stroke-width="1.11"/>
<line x1="433.50" y1="334.5" x2="438.5" y2="334.5" stroke="#000" stroke-width="1.11"/>
<rect x="438.5" y="289.5" width="282.0" height="67.0" fill="none" stroke="#000" stroke-width="1.11"/>
<text transform="translate(736.56,325.87) rotate(-90)" font-size="13.889" text-anchor="middle" letter-spacing="-0.9">I2X</text>
<text x="579.09" y="396.42" font-size="13.889" text-anchor="middle">Y(X=0) [mm]</text>
</svg>
</body></html>
